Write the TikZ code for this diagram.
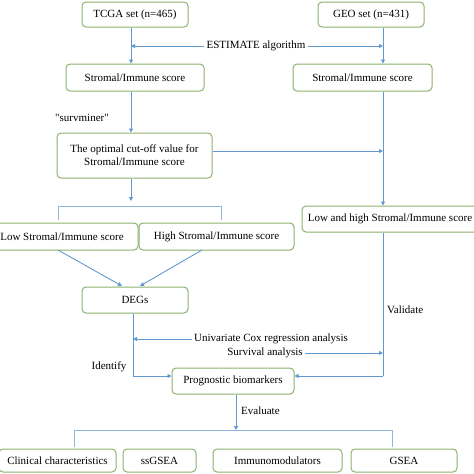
\documentclass[tikz,border=0pt]{standalone}
\usepackage{fontspec}
\setmainfont{Liberation Serif}[Ligatures=TeXOff]
\usepackage{tikz}
\usetikzlibrary{arrows.meta}
\definecolor{boxgreen}{RGB}{140,178,108}
\definecolor{lineblue}{RGB}{98,152,208}
\tikzset{block/.style = {draw=boxgreen, rounded corners=4pt, line width=1pt, fill=white,
                         inner sep=0pt, font=\fontsize{11}{13}\selectfont, align=center},
         arr/.style = {draw=lineblue, line width=0.9pt, -{Triangle[length=4pt,width=4pt]}},
         brace/.style = {draw=lineblue!70, line width=0.9pt},
         lbl/.style = {font=\fontsize{11}{13}\selectfont, inner sep=2pt}}

\begin{document}
\begin{tikzpicture}[x=1pt, y=-1pt]
        \useasboundingbox (0,0) rectangle (474,474);

        % boxes
        \node [block, minimum width=106pt, minimum height=25pt] (tcga)    at (135,14.5)  {TCGA set (n=465)};
        \node [block, minimum width=106pt, minimum height=25pt] (geo)     at (371,14.5)  {GEO set (n=431)};
        \node [block, minimum width=138pt, minimum height=27pt] (strL)    at (135,77.5)  {Stromal/Immune score};
        \node [block, minimum width=139pt, minimum height=27pt] (strR)    at (362.5,77.5) {Stromal/Immune score};
        \node [block, minimum width=155pt, minimum height=45pt] (cutoff)  at (134.5,155.5) {The optimal cut-off value for\\Stromal/Immune score};
        \node [block, minimum width=176pt, minimum height=26pt] (lowhigh) at (390,219)   {Low and high Stromal/Immune score};
        \node [block, minimum width=152pt, minimum height=27pt] (low)     at (62,236.5)  {Low Stromal/Immune score};
        \node [block, minimum width=155pt, minimum height=27pt] (high)    at (216.5,236.5) {High Stromal/Immune score};
        \node [block, minimum width=106pt, minimum height=26pt] (degs)    at (135,300)   {DEGs};
        \node [block, minimum width=122pt, minimum height=26pt] (prog)    at (233,381)   {Prognostic biomarkers};
        \node [block, minimum width=117pt, minimum height=23pt] (clin)    at (57.5,460.5) {Clinical characteristics};
        \node [block, minimum width=73pt,  minimum height=23pt] (ssgsea)  at (159.5,460.5) {ssGSEA};
        \node [block, minimum width=129pt, minimum height=23pt] (immuno)  at (277.5,460.5) {Immunomodulators};
        \node [block, minimum width=106pt, minimum height=23pt] (gsea)    at (404,460.5) {GSEA};

        % labels
        \node [lbl] (est)   at (256,46)  {ESTIMATE algorithm};
        \node [lbl] (surv)  at (82,118)  {"survminer"};
        \node [lbl] (cox)   at (271,339) {Univariate Cox regression analysis};
        \node [lbl] (sa)    at (265,353) {Survival analysis};
        \node [lbl, anchor=west] (valid) at (385,310) {Validate};
        \node [lbl] (ident) at (109,367) {Identify};
        \node [lbl, anchor=west] (evalu) at (239,411) {Evaluate};

        % junction points
        \coordinate (estL)  at (131,46);
        \coordinate (estR)  at (383,46);
        \coordinate (cutR)  at (383,151);
        \coordinate (brT)   at (131,206);
        \coordinate (coxL)  at (133,339);
        \coordinate (saR)   at (383,353);
        \coordinate (idL)   at (133,376);
        \coordinate (vaR)   at (383,376);
        \coordinate (evT)   at (236,430);

        % connectors
        \draw [arr] (tcga.south -| estL) -- (strL.north -| estL);
        \draw [arr] (geo.south -| estR) -- (strR.north -| estR);
        \draw [arr] (est.west) -- (estL);
        \draw [arr] (est.east) -- (estR);
        \draw [arr] (strL.south -| estL) -- (cutoff.north -| estL);
        \draw [arr] (strR.south -| estR) -- (lowhigh.north -| estR);
        \draw [arr] ([yshift=4.5pt]cutoff.east) -- (cutR);
        \draw [arr] (cutoff.south -| brT) -- ([yshift=5pt]brT);
        \draw [brace] (58,220) -- (58,206) -- (221,206) -- (221,220);
        \draw [arr] (58,250) -- (122,286);
        \draw [arr] (202,250) -- (140,286);
        \draw [draw=lineblue, line width=0.9pt] (degs.south -| idL) -- (idL);
        \draw [arr] (idL) -- (prog.west |- idL);
        \draw [arr] (cox.west) -- (coxL);
        \draw [arr] (sa.east) -- (saR);
        \draw [draw=lineblue, line width=0.9pt] (lowhigh.south -| vaR) -- (vaR);
        \draw [arr] (vaR) -- (prog.east |- vaR);
        \draw [arr] (prog.south -| evT) -- (evT);
        \draw [brace] (74,447) -- (74,430) -- (392,430) -- (392,447);
\end{tikzpicture}
\end{document}
